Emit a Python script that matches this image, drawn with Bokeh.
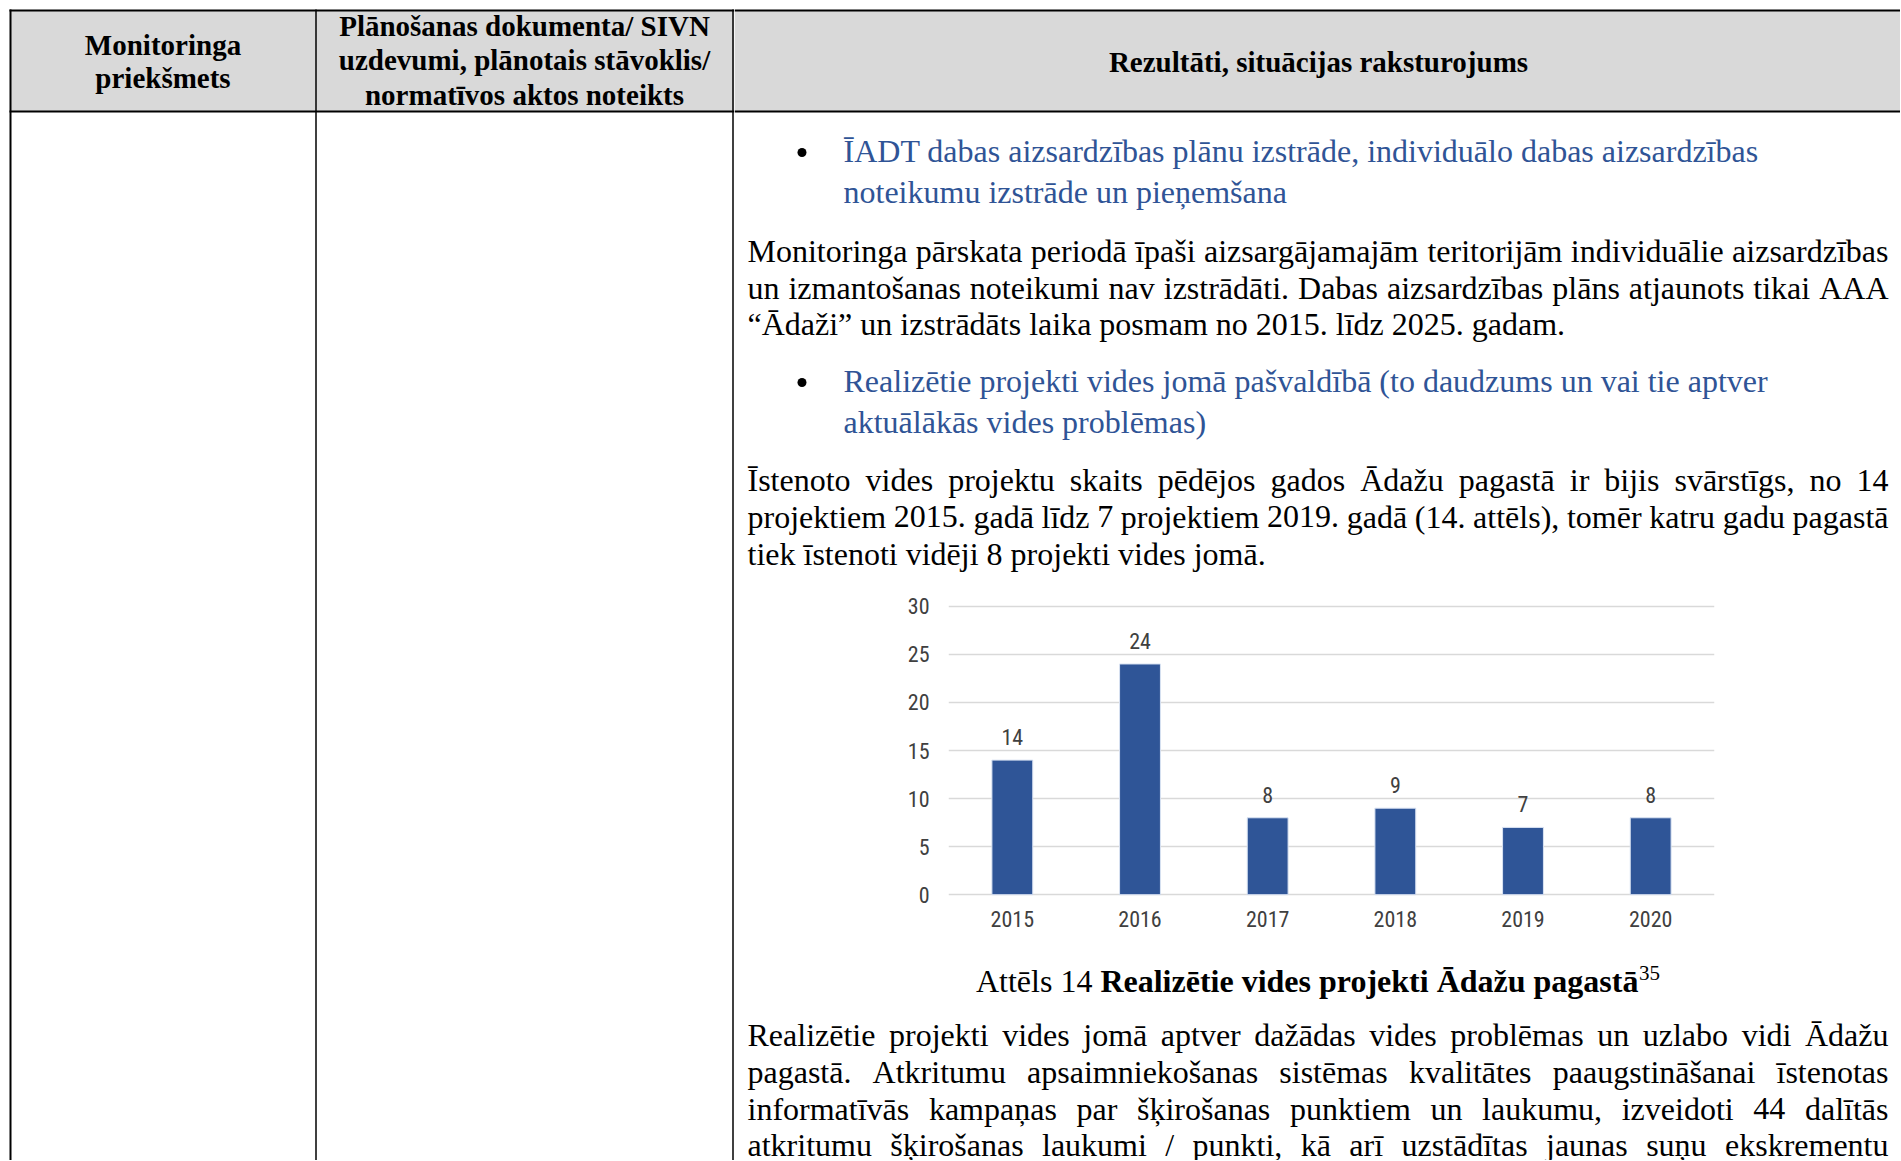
from bokeh.plotting import figure
from bokeh.layouts import row, column
from bokeh.models import Range1d, FactorRange, FixedTicker, ColumnDataSource
from bokeh.embed import file_html
from bokeh.resources import INLINE
from bokeh.core.properties import value

# ---------------- data ----------------
years = ["2015", "2016", "2017", "2018", "2019", "2020"]
projects = [14, 24, 8, 9, 7, 8]
y_ticks = [0, 5, 10, 15, 20, 25, 30]

header_col1 = ["Monitoringa", "priekšmets"]
header_col2 = ["Plānošanas dokumenta/ SIVN", "uzdevumi, plānotais stāvoklis/", "normatīvos aktos noteikts"]
header_col3 = ["Rezultāti, situācijas raksturojums"]

bullet1 = ["ĪADT dabas aizsardzības plānu izstrāde, individuālo dabas aizsardzības",
           "noteikumu izstrāde un pieņemšana"]
para1 = ["Monitoringa pārskata periodā īpaši aizsargājamajām teritorijām individuālie aizsardzības",
         "un izmantošanas noteikumi nav izstrādāti. Dabas aizsardzības plāns atjaunots tikai AAA",
         "“Ādaži” un izstrādāts laika posmam no 2015. līdz 2025. gadam."]
bullet2 = ["Realizētie projekti vides jomā pašvaldībā (to daudzums un vai tie aptver",
           "aktuālākās vides problēmas)"]
para2 = ["Īstenoto vides projektu skaits pēdējos gados Ādažu pagastā ir bijis svārstīgs, no 14",
         "projektiem 2015. gadā līdz 7 projektiem 2019. gadā (14. attēls), tomēr katru gadu pagastā",
         "tiek īstenoti vidēji 8 projekti vides jomā."]
caption_plain = "Attēls 14 "
caption_bold = "Realizētie vides projekti Ādažu pagastā"
caption_sup = "35"
para3 = ["Realizētie projekti vides jomā aptver dažādas vides problēmas un uzlabo vidi Ādažu",
         "pagastā. Atkritumu apsaimniekošanas sistēmas kvalitātes paaugstināšanai īstenotas",
         "informatīvās kampaņas par šķirošanas punktiem un laukumu, izveidoti 44 dalītās",
         "atkritumu šķirošanas laukumi / punkti, kā arī uzstādītas jaunas suņu ekskrementu"]

# ---------------- styles ----------------
SERIF = "Liberation Serif"
NARROW = "Liberation Sans Narrow, Roboto Condensed, DejaVu Sans Condensed, Liberation Sans"
BLUE = "#2F5496"
BAR = "#2F5597"
GRAY = "#D9D9D9"
BODY = 32
HEAD = 29
SHIFT = 0.36  # baseline correction (em)

# Times-compatible advance widths (1/1000 em) for justification
_reg = dict(a=444, b=500, c=444, d=500, e=444, f=333, g=500, h=500, i=278, j=278, k=500, l=278, m=778,
            n=500, o=500, p=500, q=500, r=333, s=389, t=278, u=500, v=500, w=722, x=500, y=500, z=444,
            A=722, B=667, C=667, D=722, E=611, F=556, G=722, H=722, I=333, J=389, K=722, L=611, M=889,
            N=722, O=722, P=556, Q=722, R=667, S=556, T=611, U=722, V=722, W=944, X=722, Y=722, Z=611)
_bold = dict(a=500, b=556, c=444, d=556, e=444, f=333, g=500, h=556, i=278, j=333, k=556, l=278, m=833,
             n=556, o=500, p=556, q=556, r=444, s=389, t=333, u=556, v=500, w=722, x=500, y=500, z=444,
             A=722, B=667, C=722, D=722, E=667, F=611, G=778, H=778, I=389, J=500, K=778, L=667, M=944,
             N=722, O=778, P=611, Q=778, R=722, S=556, T=667, U=722, V=722, W=1000, X=722, Y=722, Z=667)
_punct = {" ": 250, ",": 250, ".": 250, "/": 278, "(": 333, ")": 333, "“": 444, "”": 444, "-": 333, ":": 278}
_base = dict(zip("āēīūšžķļņģčĀĒĪŪŠŽĶĻŅĢČ", "aeiuszklngcAEIUSZKLNGC"))


def tw(s, size, bold=False):
    tab = _bold if bold else _reg
    tot = 0
    for ch in s:
        ch2 = _base.get(ch, ch)
        if ch2.isdigit():
            tot += 500
        elif ch2 in tab:
            tot += tab[ch2]
        else:
            tot += _punct.get(ch2, 500)
    return tot / 1000.0 * size


def page_fig(x0, y0, w, h):
    f = figure(width=w, height=h, x_range=Range1d(x0, x0 + w), y_range=Range1d(y0 + h, y0),
               output_backend="svg", toolbar_location=None, min_border=0, frame_align=False,
               x_axis_location=None, y_axis_location=None, outline_line_color=None)
    f.grid.visible = False
    return f


def add_lines(f, lines, x, ys, size, color, style="normal", align="left"):
    f.text(x=[x] * len(lines), y=[v - SHIFT * size for v in ys], text=lines, text_font=value(SERIF),
           text_font_size=f"{size}px", text_font_style=style, text_color=color,
           text_align=align, text_baseline="alphabetic")


def add_justified(f, line, xl, xr, y, size, color):
    words = line.split(" ")
    ws = [tw(w, size) for w in words]
    gap = (xr - xl - sum(ws)) / max(len(words) - 1, 1)
    xs, cx = [], xl
    for w in ws:
        xs.append(cx)
        cx += w + gap
    f.text(x=xs, y=[y - SHIFT * size] * len(words), text=words, text_font=value(SERIF),
           text_font_size=f"{size}px", text_color=color, text_align="left", text_baseline="alphabetic")


def add_paragraph(f, lines, xl, xr, ys, size, color, last_justified=False):
    for i, (ln, yy) in enumerate(zip(lines, ys)):
        if i < len(lines) - 1 or last_justified:
            add_justified(f, ln, xl, xr, yy, size, color)
        else:
            add_lines(f, [ln], xl, [yy], size, color)


TXT_L, TXT_R = 747, 1888
W_TOTAL, H_TOTAL = 1900, 1160
X_SPLIT = 734

# ---------------- left part (columns 1 and 2) ----------------
left = page_fig(0, 0, X_SPLIT, H_TOTAL)
left.quad(left=[10], right=[X_SPLIT], top=[10], bottom=[111], fill_color=GRAY, line_color=None)
left.segment(x0=[9, 9], y0=[10, 111], x1=[X_SPLIT, X_SPLIT], y1=[10, 111], line_color="black", line_width=2)
left.segment(x0=[10, 315.5, 732.5], y0=[9, 9, 9], x1=[10, 315.5, 732.5], y1=[H_TOTAL] * 3,
             line_color="black", line_width=[2, 1.5, 1.5])
add_lines(left, header_col1, 162.5, [54.5, 88], HEAD, "black", "bold", "center")
add_lines(left, header_col2, 524, [36, 70, 104.5], HEAD, "black", "bold", "center")

RW = W_TOTAL - X_SPLIT
# ---------------- right column top ----------------
top = page_fig(X_SPLIT, 0, RW, 585)
top.quad(left=[X_SPLIT], right=[W_TOTAL], top=[10], bottom=[111], fill_color=GRAY, line_color=None)
top.segment(x0=[X_SPLIT, X_SPLIT], y0=[10, 111], x1=[W_TOTAL, W_TOTAL], y1=[10, 111],
            line_color="black", line_width=2)
add_lines(top, header_col3, 1318, [71.5], HEAD, "black", "bold", "center")
top.scatter(x=[801.5, 801.5], y=[152, 382], size=9, marker="circle", fill_color="black", line_color=None)
add_lines(top, bullet1, 843, [162.5, 203.5], BODY, BLUE)
add_paragraph(top, para1, TXT_L, TXT_R, [262.5, 299, 335.5], BODY, "black")
add_lines(top, bullet2, 843, [392.5, 433.5], BODY, BLUE)
add_paragraph(top, para2, TXT_L, TXT_R, [491.5, 528, 565.5], BODY, "black")

# ---------------- chart ----------------
src = ColumnDataSource(dict(year=years, n=projects, lab=[str(v) for v in projects]))
chart = figure(width=RW, height=360, x_range=FactorRange(factors=years), y_range=Range1d(-0.5, 30.5),
               output_backend="svg", toolbar_location=None, outline_line_color=None, frame_align=False,
               min_border_left=948 - X_SPLIT, min_border_right=W_TOTAL - 1714,
               min_border_top=16, min_border_bottom=46)
chart.vbar(x="year", top="n", bottom=0, width=0.32, source=src, fill_color=BAR,
           line_color="#DAE3F3", line_width=1)
chart.text(x="year", y="n", text="lab", source=src, text_align="center", text_baseline="alphabetic",
           y_offset=-23, text_font=value(NARROW), text_font_size="22px", text_color="#404040")
chart.xgrid.grid_line_color = None
chart.ygrid.ticker = FixedTicker(ticks=y_ticks)
chart.ygrid.grid_line_color = GRAY
chart.ygrid.grid_line_width = 1.5
chart.yaxis.ticker = FixedTicker(ticks=y_ticks)
for ax in (chart.xaxis[0], chart.yaxis[0]):
    ax.axis_line_color = None
    ax.major_tick_line_color = None
    ax.minor_tick_line_color = None
    ax.major_tick_in = 0
    ax.major_tick_out = 0
    ax.major_label_text_font = NARROW
    ax.major_label_text_font_size = "22px"
    ax.major_label_text_color = "#404040"
chart.yaxis.major_label_standoff = 19
chart.xaxis.major_label_standoff = 11

# ---------------- right column bottom ----------------
bottom = page_fig(X_SPLIT, 945, RW, H_TOTAL - 945)
cap_w = tw(caption_plain, BODY) + tw(caption_bold, BODY, bold=True) + tw(caption_sup, 21)
cx0 = (TXT_L + TXT_R) / 2 - cap_w / 2
cap_y = 992.5
add_lines(bottom, [caption_plain], cx0, [cap_y], BODY, "black")
cx1 = cx0 + tw(caption_plain, BODY)
add_lines(bottom, [caption_bold], cx1, [cap_y], BODY, "black", "bold")
cx2 = cx1 + tw(caption_bold, BODY, bold=True)
add_lines(bottom, [caption_sup], cx2, [cap_y - 12], 21, "black")
add_paragraph(bottom, para3, TXT_L, TXT_R, [1046, 1083, 1120, 1156], BODY, "black", last_justified=True)

page = row(left, column(top, chart, bottom, spacing=0), spacing=0)
open("out.html", "w").write(file_html(page, INLINE))
